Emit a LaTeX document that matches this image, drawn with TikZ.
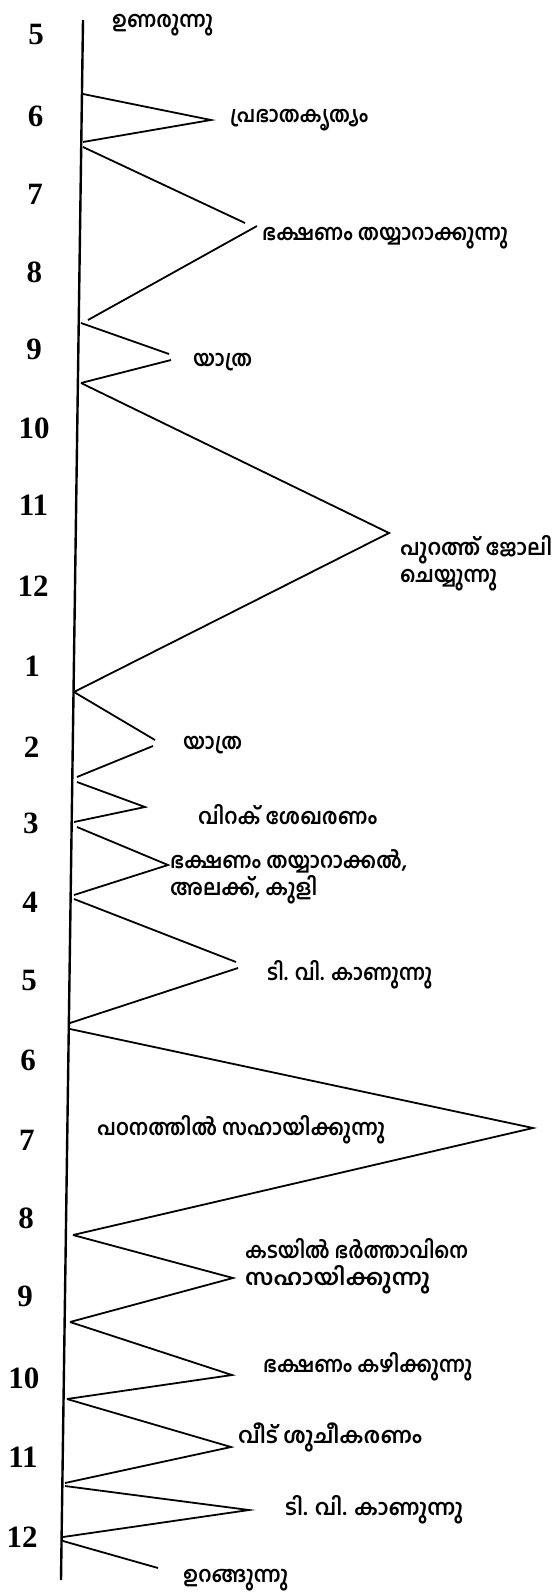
\documentclass[tikz,border=0pt]{standalone}
\usepackage{fontspec}
\usepackage{graphicx}
\setmainfont{Liberation Serif}
\newfontfamily\mal[Script=Malayalam]{Hind Kochi}
\newcommand\fitw[2]{\resizebox{#1pt}{\height}{#2}}
\tikzset{
  axisline/.style={line width=2.4pt},
  zig/.style={line width=1.8pt, line join=miter},
  hour/.style={font=\bfseries\fontsize{31}{31}\selectfont, inner sep=0pt, anchor=center},
  lab/.style={anchor=west, inner sep=0pt, align=left, font=\mal\bfseries\fontsize{22}{27}\selectfont},
}
\begin{document}
\begin{tikzpicture}[x=1pt,y=-1pt]
\fill[white] (0,0) rectangle (559,1593);
\useasboundingbox (0,0) rectangle (559,1593);
% axis
\coordinate (top) at (83,20);
\coordinate (bot) at (61,1580);
\draw[axisline] (top) -- (bot);
% vertices
\coordinate (s1) at (83,94);   \coordinate (p1) at (211,120);  \coordinate (e1) at (83,142);
\coordinate (s2) at (83,147);  \coordinate (p2a) at (245,223); \coordinate (p2b) at (257,226); \coordinate (e2) at (88,320);
\coordinate (s3) at (81,323);  \coordinate (p3a) at (169,354); \coordinate (p3b) at (171,360); \coordinate (e3) at (81,383);
\coordinate (p4) at (389,533); \coordinate (e4) at (74,692);
\coordinate (p5a) at (155,740); \coordinate (p5b) at (153,746); \coordinate (e5) at (77,777);
\coordinate (s6) at (77,782);  \coordinate (p6) at (145,807);  \coordinate (e6) at (74,822);
\coordinate (s7) at (77,827);  \coordinate (p7) at (168,865);  \coordinate (e7) at (74,895);
\coordinate (s8) at (74,899);  \coordinate (p8a) at (236,962); \coordinate (p8b) at (238,968); \coordinate (e8) at (70,1023);
\coordinate (s9) at (70,1029); \coordinate (p9) at (533,1128); \coordinate (e9) at (73,1235);
\coordinate (p10) at (233,1278); \coordinate (e10) at (70,1322);
\coordinate (p11) at (232,1375); \coordinate (e11) at (67,1399);
\coordinate (p12) at (231,1447); \coordinate (e12) at (65,1483);
\coordinate (s13) at (65,1486); \coordinate (p13) at (249,1510); \coordinate (e13) at (63,1537);
\coordinate (s14) at (63,1541); \coordinate (e14) at (158,1568);
% zigzag
\draw[zig] (s1) -- (p1) -- (e1);
\draw[zig] (s2) -- (p2a);
\draw[zig] (p2b) -- (e2);
\draw[zig] (s3) -- (p3a);
\draw[zig] (p3b) -- (e3);
\draw[zig] (e3) -- (p4) -- (e4);
\draw[zig] (e4) -- (p5a);
\draw[zig] (p5b) -- (e5);
\draw[zig] (s6) -- (p6) -- (e6);
\draw[zig] (s7) -- (p7) -- (e7);
\draw[zig] (s8) -- (p8a);
\draw[zig] (p8b) -- (e8);
\draw[zig] (s9) -- (p9) -- (e9);
\draw[zig] (e9) -- (p10) -- (e10);
\draw[zig] (e10) -- (p11) -- (e11);
\draw[zig] (e11) -- (p12) -- (e12);
\draw[zig] (s13) -- (p13) -- (e13);
\draw[zig] (s14) -- (e14);
% hours
\node[hour] (h1) at (36,35) {5};
\node[hour] (h2) at (35.5,116) {6};
\node[hour] (h3) at (35,194) {7};
\node[hour] (h4) at (34.5,272) {8};
\node[hour] (h5) at (34,349) {9};
\node[hour] (h6) at (34,428) {10};
\node[hour] (h7) at (33.5,505) {11};
\node[hour] (h8) at (33,586) {12};
\node[hour] (h9) at (32,666) {1};
\node[hour] (h10) at (31.5,747) {2};
\node[hour] (h11) at (31,823) {3};
\node[hour] (h12) at (30,902) {4};
\node[hour] (h13) at (29,980) {5};
\node[hour] (h14) at (28,1060) {6};
\node[hour] (h15) at (27,1140) {7};
\node[hour] (h16) at (26,1218) {8};
\node[hour] (h17) at (25,1296) {9};
\node[hour] (h18) at (24,1378) {10};
\node[hour] (h19) at (23,1457) {11};
\node[hour] (h20) at (22,1537) {12};
% labels
\node[lab] (l1) at (112,25) {\fitw{101}{ഉണരുന്നു}};
\node[lab] (l2) at (230,120) {\fitw{138}{പ്രഭാതകൃത്യം}};
\node[lab] (l3) at (262,238) {\fitw{246}{ഭക്ഷണം തയ്യാറാക്കുന്നു}};
\node[lab] (l4) at (193,362) {\fitw{59}{യാത്ര}};
\node[lab] (l5) at (400,563) {\fitw{152}{പുറത്ത് ജോലി}\\\fitw{97}{ചെയ്യുന്നു}};
\node[lab] (l6) at (183,745) {\fitw{59}{യാത്ര}};
\node[lab] (l7) at (198,815) {\fitw{179}{വിറക് ശേഖരണം}};
\node[lab] (l8) at (170,877) {\fitw{237}{ഭക്ഷണം തയ്യാറാക്കൽ,}\\\fitw{147}{അലക്ക്, കുളി}};
\node[lab] (l9) at (267,975) {\fitw{165}{ടി. വി. കാണുന്നു}};
\node[lab] (l10) at (97,1130) {\fitw{288}{പഠനത്തിൽ സഹായിക്കുന്നു}};
\node[lab] (l11) at (245,1266) {\fitw{223}{കടയിൽ ഭർത്താവിനെ}\\\fitw{185}{സഹായിക്കുന്നു}};
\node[lab] (l12) at (263,1367) {\fitw{209}{ഭക്ഷണം കഴിക്കുന്നു}};
\node[lab] (l13) at (238,1437) {\fitw{184}{വീട് ശുചീകരണം}};
\node[lab] (l14) at (285,1510) {\fitw{178}{ടി. വി. കാണുന്നു}};
\node[lab] (l15) at (183,1580) {\fitw{105}{ഉറങ്ങുന്നു}};
\end{tikzpicture}
\end{document}
